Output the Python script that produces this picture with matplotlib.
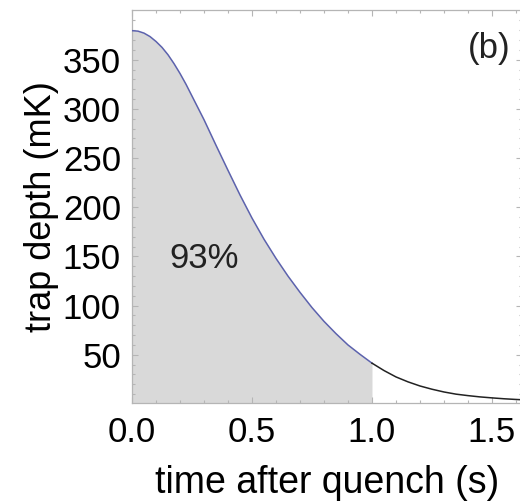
import matplotlib.pyplot as plt
import numpy as np

plt.rcParams['font.family'] = ['Liberation Sans', 'DejaVu Sans']

# trap depth (time in s, depth in mK)
t = [0.00, 0.025, 0.05, 0.075, 0.10, 0.125, 0.15, 0.175, 0.20, 0.225,
     0.25, 0.30, 0.35, 0.40, 0.45, 0.50,
     0.55, 0.60, 0.65, 0.70, 0.75, 0.80, 0.85, 0.90, 0.95, 1.00,
     1.05, 1.10, 1.15, 1.20, 1.25, 1.30, 1.35, 1.40, 1.45, 1.50,
     1.55, 1.60, 1.65]
depth = [379.5, 379, 377, 373.5, 368.5, 362.5, 355, 346, 336, 325,
         313, 289, 263, 237.5, 212.5, 189,
         167.5, 148, 130, 113.5, 98, 84, 71.5, 60, 50.5, 41.5,
         34, 27.5, 22.5, 18.3, 15, 12.2, 10, 8.5, 7.2, 6.2,
         5.3, 4.6, 4.0]
t_cut = 1.0
label_frac = "93%"

t = np.array(t)
depth = np.array(depth)
inside = t <= t_cut
outside = t >= t_cut

fig = plt.figure(figsize=(5.2, 5.01), dpi=100)
ax = fig.add_axes([132/520, 98/501, 389.5/520, 393/501])

ax.fill_between(t[inside], 0, depth[inside], color='#d9d9d9', lw=0, zorder=1)
ax.plot(t[inside], depth[inside], color='#5c62ad', lw=1.1, zorder=3)
ax.plot(t[outside], depth[outside], color='#222222', lw=1.1, zorder=3)

ax.set_xlim(0, 1.623)
ax.set_ylim(1, 400.5)
ax.set_xticks([0.0, 0.5, 1.0, 1.5])
ax.set_xticklabels(['0.0', '0.5', '1.0', '1.5'])
ax.set_xticks(np.arange(0, 1.65, 0.1), minor=True)
ax.set_yticks([50, 100, 150, 200, 250, 300, 350])
ax.set_yticks(np.arange(10, 400, 10), minor=True)

for s in ax.spines.values():
    s.set_color('#b5b5b5')
    s.set_linewidth(0.9)
ax.tick_params(which='both', direction='in', top=True, right=True,
               color='#b5b5b5', width=0.8)
ax.tick_params(which='major', length=4, labelsize=25)
ax.tick_params(which='minor', length=2.5)
ax.tick_params(axis='x', pad=9)
ax.tick_params(axis='y', pad=8)

ax.set_xlabel('time after quench (s)', fontsize=27, labelpad=12)
ax.set_ylabel('trap depth (mK)', fontsize=26, labelpad=3)

ax.text(0.30, 148, label_frac, fontsize=25, ha='center', va='center', color='#222222')
ax.text(1.49, 361, '(b)', fontsize=25, ha='center', va='center', color='#222222')

plt.savefig('out.png', dpi=100)
